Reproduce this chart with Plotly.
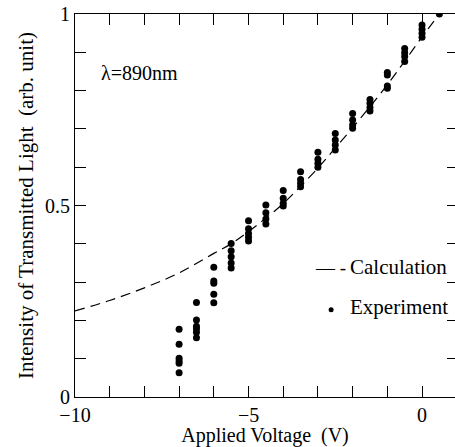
import plotly.graph_objects as go

# Experiment data (voltage columns, intensity values)
exp_x = ([-7.0] * 6 + [-6.5] * 6 + [-6.0] * 5 + [-5.5] * 5 + [-5.0] * 5 +
         [-4.5] * 4 + [-4.0] * 4 + [-3.5] * 4 + [-3.0] * 4 + [-2.5] * 4 +
         [-2.0] * 4 + [-1.5] * 4 + [-1.0] * 4 + [-0.5] * 4 + [0.0] * 4 + [0.5])
exp_y = [0.177, 0.138, 0.101, 0.094, 0.088, 0.063,
         0.247, 0.201, 0.185, 0.178, 0.169, 0.155,
         0.339, 0.303, 0.297, 0.268, 0.246,
         0.401, 0.382, 0.366, 0.350, 0.337,
         0.460, 0.439, 0.427, 0.417, 0.407,
         0.501, 0.481, 0.465, 0.452,
         0.539, 0.519, 0.506, 0.499,
         0.588, 0.568, 0.558, 0.549,
         0.639, 0.621, 0.610, 0.600,
         0.688, 0.671, 0.658, 0.645,
         0.740, 0.723, 0.710, 0.702,
         0.777, 0.767, 0.756, 0.747,
         0.847, 0.841, 0.812, 0.806,
         0.910, 0.899, 0.889, 0.876,
         0.971, 0.960, 0.950, 0.939,
         1.0]

# Calculation curve
calc_x = [-10, -9, -8, -7, -6, -5.5, -5, -4.5, -4, -3.5, -3, -2.5, -2, -1.5, -1, -0.5, 0, 0.5]
calc_y = [0.225, 0.252, 0.285, 0.324, 0.375, 0.40, 0.432, 0.467, 0.505, 0.55, 0.598, 0.65,
          0.703, 0.758, 0.815, 0.877, 0.94, 1.0]

x_tickvals = [-10, -5, 0]
x_ticktext = ["\u221210", "\u22125", "0"]
y_tickvals = [0, 0.5, 1]
y_ticktext = ["0", "0.5", "1"]

FONT = "Liberation Serif, Tinos, Times New Roman, DejaVu Serif, serif"

fig = go.Figure()
fig.add_trace(go.Scatter(x=calc_x, y=calc_y, mode="lines",
                         line=dict(color="black", width=1.2, dash="10px,6px", shape="spline"),
                         showlegend=False, hoverinfo="skip"))
fig.add_trace(go.Scatter(x=exp_x, y=exp_y, mode="markers",
                         marker=dict(color="black", size=7),
                         showlegend=False))
# invisible trace to anchor the right-side tick axis
fig.add_trace(go.Scatter(x=[-10], y=[0], yaxis="y2", mode="markers",
                         marker=dict(opacity=0), showlegend=False, hoverinfo="skip"))
# experiment legend dot
fig.add_trace(go.Scatter(x=[-2.62], y=[0.228], mode="markers",
                         marker=dict(color="black", size=5), showlegend=False, hoverinfo="skip"))

fig.update_layout(
    width=455, height=447,
    margin=dict(l=75, r=0, t=14, b=50, autoexpand=False),
    paper_bgcolor="white", plot_bgcolor="white",
    font=dict(family=FONT, size=20, color="black"),
    xaxis=dict(range=[-10, 0.95], tickvals=x_tickvals, ticktext=x_ticktext,
               ticks="inside", ticklen=11, tickwidth=1, tickcolor="black",
               minor=dict(dtick=1, tick0=0, ticks="inside", ticklen=11, tickwidth=1, tickcolor="black"),
               showline=True, linecolor="black", linewidth=1, mirror="ticks",
               showgrid=False, zeroline=False, automargin=False,
               tickfont=dict(family=FONT, size=20),
               title=dict(text="Applied Voltage  (V)", standoff=1, font=dict(family=FONT, size=20))),
    yaxis=dict(range=[0, 1], tickvals=y_tickvals, ticktext=y_ticktext,
               ticks="inside", ticklen=11, tickwidth=1, tickcolor="black",
               minor=dict(dtick=0.1, tick0=0, ticks="inside", ticklen=11, tickwidth=1, tickcolor="black"),
               showline=True, linecolor="black", linewidth=1, mirror=False,
               showgrid=False, zeroline=False, automargin=False,
               tickfont=dict(family=FONT, size=20),
               title=dict(text="Intensity of Transmitted Light  (arb. unit)", standoff=5,
                          font=dict(family=FONT, size=21))),
    yaxis2=dict(range=[0, 1], overlaying="y", side="right", tickvals=y_tickvals,
                showticklabels=False, ticks="inside", ticklen=8, tickwidth=1, tickcolor="black",
                minor=dict(dtick=0.1, tick0=0, ticks="inside", ticklen=8, tickwidth=1, tickcolor="black"),
                showline=False, showgrid=False, zeroline=False, automargin=False),
    annotations=[
        dict(x=-9.3, y=0.846, xref="x", yref="y", text="\u03bb=890nm", showarrow=False,
             xanchor="left", yanchor="middle", font=dict(family=FONT, size=20)),
        dict(x=-3.14, y=0.339, xref="x", yref="y", text="\u2014 -", showarrow=False,
             xanchor="left", yanchor="middle", font=dict(family=FONT, size=19)),
        dict(x=-2.13, y=0.339, xref="x", yref="y", text="Calculation", showarrow=False,
             xanchor="left", yanchor="middle", font=dict(family=FONT, size=21)),
        dict(x=-2.13, y=0.235, xref="x", yref="y", text="Experiment", showarrow=False,
             xanchor="left", yanchor="middle", font=dict(family=FONT, size=21)),
    ],
)

fig.write_html(
    "out.html",
    config={"displayModeBar": False},
    post_script="document.body.style.margin='0';document.body.style.padding='0';"
                "document.body.style.overflow='hidden';",
)
